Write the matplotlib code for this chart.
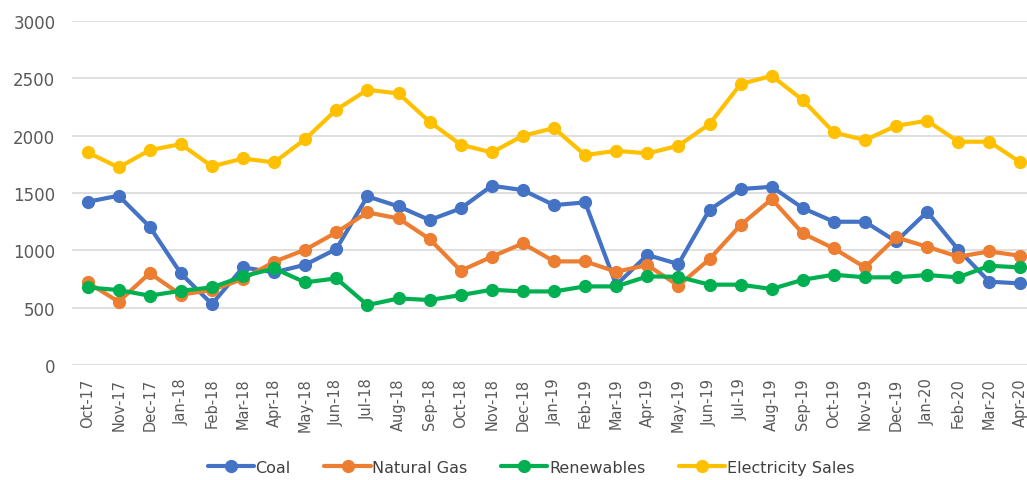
import matplotlib
matplotlib.use("Agg")
import matplotlib.pyplot as plt

months = ["Oct-17", "Nov-17", "Dec-17",
          "Jan-18", "Feb-18", "Mar-18", "Apr-18", "May-18", "Jun-18",
          "Jul-18", "Aug-18", "Sep-18", "Oct-18", "Nov-18", "Dec-18",
          "Jan-19", "Feb-19", "Mar-19", "Apr-19", "May-19", "Jun-19",
          "Jul-19", "Aug-19", "Sep-19", "Oct-19", "Nov-19", "Dec-19",
          "Jan-20", "Feb-20", "Mar-20", "Apr-20"]

coal = [1424, 1477, 1206, 799, 532, 852, 808, 875, 1012,
        1471, 1384, 1265, 1366, 1564, 1526,
        1395, 1419, 698, 960, 881, 1355,
        1535, 1555, 1369, 1250, 1250, 1078,
        1337, 1006, 727, 712]

natural_gas = [721, 552, 802, 613, 655, 750, 901, 1006, 1157,
               1331, 1279, 1099, 823, 945, 1061,
               904, 904, 814, 872, 692, 924,
               1221, 1448, 1148, 1017, 852, 1113,
               1032, 945, 991, 953]

renewables = [677, 654, 605, 648, 677, 773, 843, 721, 756,
              523, 581, 567, 610, 657, 642,
              642, 686, 686, 773, 770, 701,
              701, 663, 744, 788, 765, 765,
              785, 765, 866, 852]

electricity_sales = [1855, 1724, 1875, 1927, 1733, 1802, 1767, 1971, 2227,
                     2401, 2369, 2122, 1922, 1855, 2000,
                     2067, 1831, 1869, 1846, 1913, 2102,
                     2451, 2523, 2311, 2029, 1962, 2087,
                     2131, 1948, 1948, 1767]

series = [("Coal", coal, "#4472C4"),
          ("Natural Gas", natural_gas, "#ED7D31"),
          ("Renewables", renewables, "#00B050"),
          ("Electricity Sales", electricity_sales, "#FFC000")]

plt.rcParams["font.family"] = ["DejaVu Sans"]

fig = plt.figure(figsize=(10.27, 4.81), dpi=100)
ax = fig.add_axes([0.0701, 0.239, 0.9387, 0.715])

x = range(len(months))
for name, vals, col in series:
    ax.plot(x, vals, color=col, lw=3, marker="o", ms=8.5, label=name,
            solid_capstyle="round", clip_on=False)

ax.set_xlim(-0.5, len(months) - 0.5)
ax.set_ylim(0, 3000)
ax.set_yticks(range(0, 3001, 500))
ax.set_xticks(list(x))
ax.set_xticklabels(months, rotation=90)
ax.tick_params(axis="both", length=0, colors="#595959")
ax.tick_params(axis="x", pad=9, labelsize=10.5)
ax.tick_params(axis="y", pad=12, labelsize=12)
ax.grid(axis="y", color="#D9D9D9", lw=1.2)
ax.set_axisbelow(True)
for s in ax.spines.values():
    s.set_visible(False)

fig.legend(loc="center", bbox_to_anchor=(0.517, 0.027), ncol=4, frameon=False,
           fontsize=11.5, handlelength=2.9, handletextpad=0.1, columnspacing=2.1,
           labelcolor="#404040")

fig.savefig("out.png", dpi=100)
